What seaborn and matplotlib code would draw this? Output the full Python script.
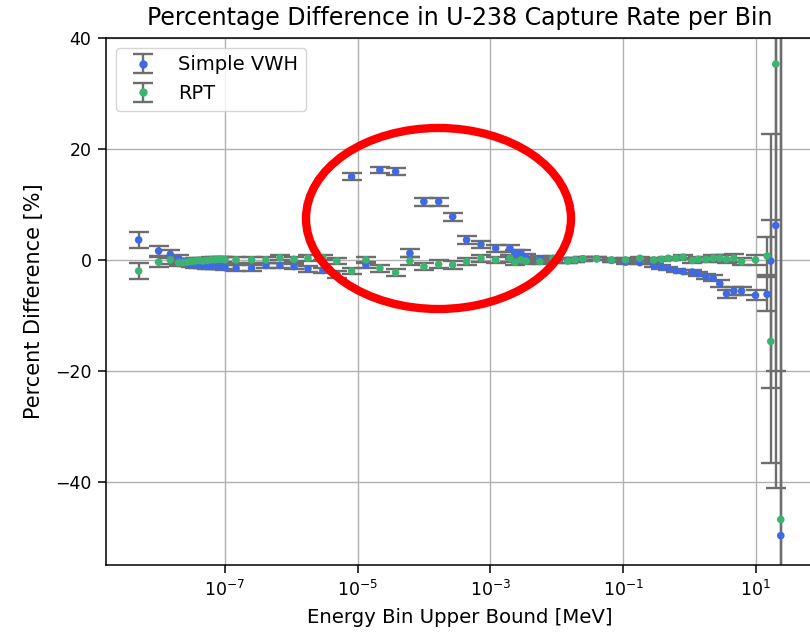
import numpy as np
import pandas as pd
import matplotlib
matplotlib.use("Agg")
import matplotlib.pyplot as plt
import matplotlib.ticker as mticker
from matplotlib.patches import Ellipse
import seaborn as sns

# ---- data ----
energy = [5.0e-9, 1.0e-8, 1.5e-8, 2.0e-8, 2.33e-8, 2.67e-8, 3.07e-8, 3.53e-8, 4.06e-8,
          4.66e-8, 5.36e-8, 6.15e-8, 7.07e-8, 8.12e-8, 9.0e-8, 1.0e-7, 1.47e-7, 2.52e-7,
          4.15e-7, 6.74e-7, 1.10e-6, 1.78e-6, 2.99e-6, 4.86e-6, 8.1e-6, 1.33e-5, 2.16e-5,
          3.73e-5, 6.12e-5, 9.95e-5, 1.66e-4, 2.70e-4, 4.38e-4, 7.20e-4, 1.20e-3, 1.97e-3,
          2.34e-3, 2.88e-3, 3.43e-3, 5.57e-3, 8.75e-3, 1.47e-2, 1.88e-2, 2.48e-2, 3.98e-2,
          6.70e-2, 0.109, 0.179, 0.290, 0.379, 0.477, 0.624, 0.803, 1.11, 1.35, 1.77,
          2.28, 2.87, 3.62, 4.67, 6.10, 9.9, 14.8, 16.8, 20.0, 23.8]

vwh = [3.6, 1.6, 1.0, 0.3, -0.3, -0.6, -0.8, -0.9, -0.9, -1.0, -1.1, -1.1, -1.1, -1.2,
       -1.2, -1.4, -1.5, -1.5, -1.0, -1.0, -1.2, -1.6, -1.9, -2.6, 15.0, -0.9, 16.2,
       15.9, 1.2, 10.5, 10.5, 7.8, 3.6, 2.8, 2.1, 2.1, 1.2, 1.2, 0.5, 0.2, 0.0, -0.1,
       0.0, 0.2, 0.2, -0.1, -0.4, -0.5, -1.0, -1.3, -1.5, -1.9, -2.1, -2.2, -2.5, -3.0,
       -3.3, -4.3, -6.1, -5.6, -5.6, -6.4, -6.2, -0.2, 6.2, -49.7]
vwh_err = [1.5, 0.9, 0.7, 0.6, 0.5, 0.5, 0.5, 0.5, 0.5, 0.5, 0.5, 0.5, 0.5, 0.5,
           0.5, 0.5, 0.5, 0.5, 0.5, 0.5, 0.5, 0.5, 0.5, 0.6, 0.6, 0.6, 0.6,
           0.6, 0.7, 0.7, 0.7, 0.7, 0.7, 0.6, 0.6, 0.6, 0.6, 0.6, 0.5, 0.5, 0.4, 0.4,
           0.4, 0.4, 0.3, 0.3, 0.3, 0.3, 0.3, 0.3, 0.3, 0.3, 0.3, 0.4, 0.4, 0.4,
           0.5, 0.6, 0.7, 0.7, 0.7, 0.9, 3.1, 22.9, 47.3, 110.0]

rpt = [-2.0, -0.4, 0.0, -0.5, -0.5, -0.4, -0.3, -0.2, -0.1, -0.2, -0.1, 0.0, 0.0, 0.1,
       0.1, 0.0, 0.0, 0.0, 0.0, 0.4, 0.1, 0.3, 0.4, -0.2, -2.0, 0.0, -1.5,
       -2.3, -0.2, -1.2, -0.8, -0.9, -0.3, 0.3, 0.0, 0.3, -0.4, 0.0, -0.2, -0.3, 0.3, -0.2,
       0.0, 0.2, 0.2, 0.0, 0.0, 0.3, 0.0, 0.1, 0.3, 0.3, 0.5, -0.1, 0.1, 0.1,
       0.3, 0.3, 0.1, 0.3, -0.3, 0.0, 0.7, -14.7, 35.3, -46.8]
rpt_err = [1.5, 0.9, 0.7, 0.6, 0.5, 0.5, 0.5, 0.5, 0.5, 0.5, 0.5, 0.5, 0.5, 0.5,
           0.5, 0.5, 0.5, 0.5, 0.5, 0.5, 0.5, 0.5, 0.5, 0.6, 0.6, 0.6, 0.6,
           0.6, 0.7, 0.7, 0.7, 0.7, 0.7, 0.6, 0.6, 0.6, 0.6, 0.6, 0.5, 0.5, 0.4, 0.4,
           0.4, 0.4, 0.3, 0.3, 0.3, 0.3, 0.3, 0.3, 0.3, 0.3, 0.3, 0.4, 0.4, 0.4,
           0.5, 0.6, 0.7, 0.7, 0.7, 0.9, 3.4, 21.9, 55.3, 105.0]

series_names = ["Simple VWH", "RPT"]
series_colors = ["#4169E1", "#3CB371"]

df = pd.concat([
    pd.DataFrame({"energy": energy, "diff": vwh, "err": vwh_err, "series": series_names[0]}),
    pd.DataFrame({"energy": energy, "diff": rpt, "err": rpt_err, "series": series_names[1]}),
], ignore_index=True)

# ---- style ----
sns.set_style("ticks")
plt.rcParams["font.family"] = ["DejaVu Sans"]
plt.rcParams["axes.edgecolor"] = "black"
plt.rcParams["xtick.color"] = "black"
plt.rcParams["ytick.color"] = "black"
plt.rcParams["text.color"] = "black"
plt.rcParams["axes.labelcolor"] = "black"

fig = plt.figure(figsize=(8.1, 6.34), dpi=100)
ax = fig.add_axes([106 / 810, (634 - 565) / 634, 707 / 810, 527 / 634])

ecol = "#6e6e6e"
for name, col in zip(series_names, series_colors):
    sub = df[df["series"] == name]
    ax.errorbar(sub["energy"], sub["diff"], yerr=sub["err"], fmt="none",
                ecolor=ecol, elinewidth=1.7, capsize=7, capthick=1.7, zorder=2)
    # proxy for legend
    ax.errorbar([np.nan], [np.nan], yerr=[1], fmt="o", color=col, ms=5,
                ecolor=ecol, elinewidth=1.7, capsize=7, capthick=1.7, label=name)

sns.scatterplot(data=df, x="energy", y="diff", hue="series", palette=series_colors,
                hue_order=series_names, s=30, edgecolor="none", legend=False,
                ax=ax, zorder=3)

ax.set_xscale("log")
ax.set_xlim(10 ** -8.793, 10 ** 1.862)
ax.set_ylim(-55, 40)
ax.xaxis.set_major_locator(mticker.FixedLocator([1e-7, 1e-5, 1e-3, 1e-1, 1e1]))
ax.xaxis.set_minor_locator(mticker.NullLocator())
ax.yaxis.set_major_locator(mticker.FixedLocator([-40, -20, 0, 20, 40]))
ax.grid(True, which="major", color="#b0b0b0", linewidth=1.0)
ax.set_axisbelow(True)
ax.tick_params(labelsize=12.5, length=5.5, width=1.1, pad=5)
for s in ax.spines.values():
    s.set_linewidth(1.1)

ax.set_title("Percentage Difference in U-238 Capture Rate per Bin", fontsize=17, pad=9)
ax.set_xlabel("Energy Bin Upper Bound [MeV]", fontsize=14.2, labelpad=6)
ax.set_ylabel("Percent Difference [%]", fontsize=15, labelpad=8)
ax.legend(loc="upper left", fontsize=14, framealpha=0.8)

ell = Ellipse((0.4703, 0.6575), 0.3748, 0.3435, transform=ax.transAxes,
              fill=False, edgecolor="red", linewidth=6, zorder=5, clip_on=False)
ax.add_patch(ell)

fig.savefig("out.png", dpi=100)
